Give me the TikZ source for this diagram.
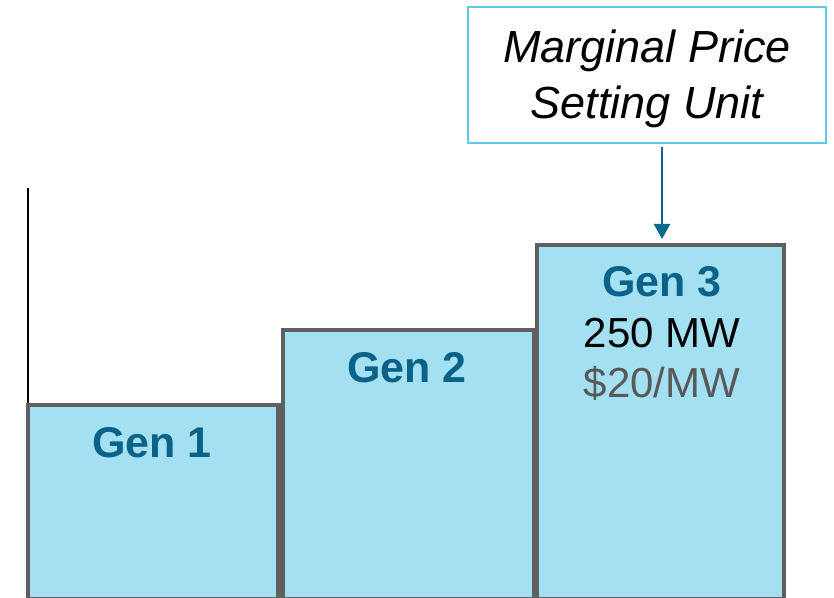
\documentclass[tikz,border=0pt]{standalone}
\usepackage{fontspec}
\setmainfont{Liberation Sans}
\usetikzlibrary{arrows.meta}

\definecolor{genfill}{HTML}{A3E0F2}
\definecolor{genedge}{HTML}{5F5F5F}
\definecolor{gentext}{HTML}{0B6289}
\definecolor{arrowblue}{HTML}{0B6690}
\definecolor{calloutedge}{HTML}{5CC9E8}
\definecolor{pricegray}{HTML}{595959}

\begin{document}
\begin{tikzpicture}[x = 1pt, y = 1pt,
  genbox/.style = {draw = genedge, fill = genfill, line width = 4.5pt,
    anchor = south west, inner sep = 0pt, outer sep = 0pt},
  genlabel/.style = {anchor = base, inner sep = 0pt, text = gentext,
    font = \fontsize{43}{50}\selectfont\bfseries},
  genvalue/.style = {anchor = base, inner sep = 0pt,
    font = \fontsize{42}{50}\selectfont},
  callout/.style = {draw = calloutedge, line width = 1.5pt, inner sep = 0pt,
    minimum width = 358pt, minimum height = 136pt},
  calloutlabel/.style = {anchor = base, inner sep = 0pt,
    font = \fontsize{45}{56}\selectfont\itshape}]
\useasboundingbox (0, 0) rectangle (834, 597);
%\draw [help lines, step = 50pt] (0, 0) grid (834, 597);

% axis
\coordinate (origin) at (28, 0);
\coordinate (ytop) at (28, 409);
\draw [line width = 1.5pt] (origin) -- (ytop);

% generators, in merit order
\node [genbox, minimum width = 250.5pt, minimum height = 194.5pt] (gen1) at (28, -2.5) {};
\node [genbox, minimum width = 251pt, minimum height = 269.5pt] (gen2) at (283, -2.5) {};
\node [genbox, minimum width = 247pt, minimum height = 354.5pt] (gen3) at (537, -2.5) {};

\node [genlabel] (gen1name) at (152, 140) {Gen 1};
\node [genlabel] (gen2name) at (407, 214) {Gen 2};
\node [genlabel] (gen3name) at (662, 300) {Gen 3};
\node [genvalue] (gen3mw) at (662, 249) {250 MW};
\node [genvalue, text = pricegray] (gen3price) at (662, 199) {\$20/MW};

% marginal unit callout
\node [callout] (msu) at (647, 522) {};
\node [calloutlabel] (msutop) at (647, 534) {Marginal Price};
\node [calloutlabel] (msubottom) at (647, 478) {Setting Unit};
\draw [arrowblue, line width = 2.5pt, -{Triangle[width = 16pt, length = 15pt]},
  shorten < = 3pt, shorten > = 6pt] (msu.south -| gen3name) -- (gen3.north -| gen3name);
\end{tikzpicture}
\end{document}
